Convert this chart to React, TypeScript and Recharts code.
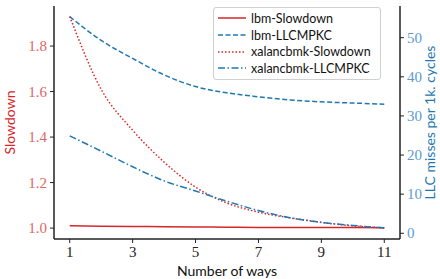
import { Line, LineChart, XAxis, YAxis } from "recharts";

const ways = [1, 2, 3, 4, 5, 6, 7, 8, 9, 10, 11];
const lbmSlowdown = [1.01, 1.008, 1.007, 1.006, 1.005, 1.004, 1.003, 1.003, 1.002, 1.002, 1.001];
const lbmLlc = [55.4, 49.3, 44.7, 40.5, 37.5, 35.9, 34.9, 34.1, 33.6, 33.3, 33.0];
const xalanSlowdown = [1.93, 1.61, 1.43, 1.29, 1.18, 1.11, 1.07, 1.045, 1.025, 1.01, 1.0];
const xalanLlc = [24.9, 21.0, 17.0, 13.4, 10.8, 8.2, 5.8, 4.0, 2.8, 2.0, 1.4];

const xTicks = [1, 3, 5, 7, 9, 11];
const leftTicks = [1.0, 1.2, 1.4, 1.6, 1.8];
const rightTicks = [0, 10, 20, 30, 40, 50];

const RED = "#d62728";
const BLUE = "#1f77b4";
const RED_TICK = "#e06666";
const BLUE_TICK = "#5b9bd0";
const SPINE = "#222";
const SANS = "Lato, 'Open Sans', sans-serif";
const SERIF = "'Liberation Serif', 'DejaVu Serif', serif";

const data = ways.map((w, i) => ({
  ways: w,
  lbmSlowdown: lbmSlowdown[i],
  lbmLlc: lbmLlc[i],
  xalanSlowdown: xalanSlowdown[i],
  xalanLlc: xalanLlc[i],
}));

const legendItems = [
  { name: "lbm-Slowdown", color: RED, dash: undefined },
  { name: "lbm-LLCMPKC", color: BLUE, dash: "5 2.5" },
  { name: "xalancbmk-Slowdown", color: RED, dash: "1.5 2" },
  { name: "xalancbmk-LLCMPKC", color: BLUE, dash: "7 2.5 1.5 2.5" },
];

// serif tick text, placed where recharts says
function makeTick(fill: string, anchor: string, fmt?: (v: number) => string, dy = 0) {
  return (props: any) => {
    const { x, y, payload } = props;
    const v = payload.value as number;
    return (
      <text
        x={x}
        y={y}
        dy={dy}
        textAnchor={anchor}
        dominantBaseline="central"
        fill={fill}
        style={{ fontFamily: SERIF, fontSize: 15 }}
      >
        {fmt ? fmt(v) : String(v)}
      </text>
    );
  };
}

function LegendBox() {
  return (
    <div
      style={{
        position: "absolute",
        left: 213,
        top: 7,
        width: 158,
        background: "rgba(255,255,255,0.85)",
        border: "1px solid #d0d0d0",
        borderRadius: 3,
        padding: "2px 4px",
        fontFamily: SANS,
        fontSize: 12.5,
        color: "#111",
      }}
    >
      {legendItems.map((it) => (
        <div key={it.name} style={{ display: "flex", alignItems: "center", height: 16.7 }}>
          <svg width={28} height={10} style={{ marginRight: 5 }}>
            <line x1={0} y1={5} x2={28} y2={5} stroke={it.color} strokeWidth={1.5} strokeDasharray={it.dash} />
          </svg>
          <span>{it.name}</span>
        </div>
      ))}
    </div>
  );
}

export default function App() {
  return (
    <div style={{ width: 440, height: 279, position: "relative", background: "#fff" }}>
      <style>{`body{margin:0}`}</style>
      <LineChart width={440} height={279} data={data} margin={{ top: 6, right: 0, bottom: 0, left: 0 }}>
        <XAxis
          xAxisId="top"
          orientation="top"
          dataKey="ways"
          type="number"
          domain={[0.5, 11.5]}
          height={0}
          tick={false}
          tickLine={false}
          axisLine={{ stroke: SPINE, strokeWidth: 1.5 }}
        />
        <XAxis
          dataKey="ways"
          type="number"
          domain={[0.5, 11.5]}
          ticks={xTicks}
          height={40}
          tickSize={4}
          tickMargin={3}
          axisLine={{ stroke: SPINE, strokeWidth: 1.5 }}
          tickLine={{ stroke: SPINE }}
          tick={makeTick("#222", "middle", undefined, 6)}
          label={{
            value: "Number of ways",
            position: "insideBottom",
            offset: 3,
            style: { fontFamily: SANS, fontSize: 14, fill: "#111" },
          }}
        />
        <YAxis
          yAxisId="left"
          domain={[0.952, 1.976]}
          ticks={leftTicks}
          allowDataOverflow
          width={54}
          tickSize={4}
          tickMargin={3}
          axisLine={{ stroke: SPINE, strokeWidth: 1.5 }}
          tickLine={{ stroke: SPINE }}
          tick={makeTick(RED_TICK, "end", (v) => v.toFixed(1))}
          label={{
            value: "Slowdown",
            angle: -90,
            position: "insideLeft",
            offset: 10,
            style: { textAnchor: "middle", fontFamily: SANS, fontSize: 14, fill: RED },
          }}
        />
        <YAxis
          yAxisId="right"
          orientation="right"
          domain={[-1.46, 58.1]}
          ticks={rightTicks}
          allowDataOverflow
          width={40}
          tickSize={4}
          tickMargin={3}
          axisLine={{ stroke: SPINE, strokeWidth: 1.5 }}
          tickLine={{ stroke: SPINE }}
          tick={makeTick(BLUE_TICK, "start")}
          label={{
            value: "LLC misses per 1k. cycles",
            angle: -90,
            position: "insideRight",
            offset: 10,
            style: { textAnchor: "middle", fontFamily: SANS, fontSize: 14, fill: BLUE },
          }}
        />
        <Line
          yAxisId="left"
          dataKey="lbmSlowdown"
          type="monotone"
          stroke={RED}
          strokeWidth={1.5}
          dot={false}
          isAnimationActive={false}
        />
        <Line
          yAxisId="right"
          dataKey="lbmLlc"
          type="monotone"
          stroke={BLUE}
          strokeWidth={1.5}
          strokeDasharray="5 2.5"
          dot={false}
          isAnimationActive={false}
        />
        <Line
          yAxisId="left"
          dataKey="xalanSlowdown"
          type="monotone"
          stroke={RED}
          strokeWidth={1.5}
          strokeDasharray="1.5 2"
          dot={false}
          isAnimationActive={false}
        />
        <Line
          yAxisId="right"
          dataKey="xalanLlc"
          type="monotone"
          stroke={BLUE}
          strokeWidth={1.5}
          strokeDasharray="7 2.5 1.5 2.5"
          dot={false}
          isAnimationActive={false}
        />
      </LineChart>
      <LegendBox />
    </div>
  );
}
